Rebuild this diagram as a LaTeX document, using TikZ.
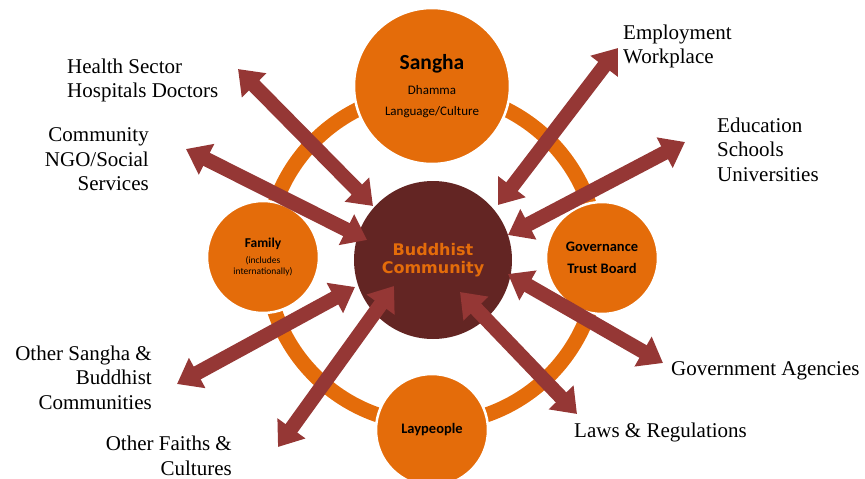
\documentclass[tikz,border=0pt]{standalone}
\usepackage{fontspec}
\setmainfont{Liberation Serif}
\newfontfamily\calib{Carlito}
\newfontfamily\verd{DejaVu Sans}
\usetikzlibrary{arrows.meta}
\definecolor{ringorange}{HTML}{E46C0A}
\definecolor{coredark}{HTML}{632523}
\definecolor{arrowred}{HTML}{953735}

\begin{document}
\begin{tikzpicture}[x=1pt,y=-1pt,
  sat/.style={circle, fill=ringorange, draw=white, line width=2.5pt, inner sep=0pt, align=center},
  link/.style={arrowred, line width=14.5pt,
    {Triangle[width=33pt,length=23pt]}-{Triangle[width=33pt,length=23pt]}},
  lbl/.style={inner sep=0pt, font=\fontsize{21}{24.5}\selectfont}
]
\useasboundingbox (0,0) rectangle (865,479);

% ring joining the four satellites
\draw[ringorange, line width=15pt] (432,258) circle[radius=166pt];

% satellites
\node[sat, minimum size=156pt, font=\calib\fontsize{13}{21}\selectfont] (sangha) at (432,86)
  {{\bfseries\fontsize{21.5}{21}\selectfont Sangha}\\[4pt]Dhamma\\Language/Culture};
\node[sat, minimum size=112pt, font=\calib\fontsize{9.5}{11}\selectfont] (family) at (263,257)
  {{\bfseries\fontsize{13.5}{16}\selectfont Family}\\[5pt](includes\\internationally)};
\node[sat, minimum size=112pt, font=\calib\bfseries\fontsize{14.5}{22}\selectfont] (gov) at (602,258)
  {Governance\\Trust Board};
\node[sat, minimum size=112pt, font=\calib\bfseries\fontsize{14.5}{17}\selectfont] (lay) at (432,430)
  {Laypeople};

% core
\node[circle, fill=coredark, minimum size=158pt, inner sep=0pt, align=center, text=ringorange,
  font=\verd\bfseries\fontsize{16}{18.5}\selectfont] (core) at (433,260) {Buddhist\\Community};

% outside labels
\node[lbl, anchor=north west, align=left] (health) at (67,58.5) {Health Sector\\Hospitals Doctors};
\node[lbl, anchor=north east, align=right] (comm) at (149,127.5) {Community\\NGO/Social\\Services};
\node[lbl, anchor=north west, align=left] (employ) at (623,24.5) {Employment\\Workplace};
\node[lbl, anchor=north west, align=left] (edu) at (717,117.5) {Education\\Schools\\Universities};
\node[lbl, anchor=north east, align=right] (othsangha) at (152,345.5) {Other Sangha \&\\Buddhist\\Communities};
\node[lbl, anchor=north east, align=right] (faiths) at (232,436) {Other Faiths \&\\Cultures};
\node[lbl, anchor=north west, align=left] (govag) at (671,361.5) {Government Agencies};
\node[lbl, anchor=north west, align=left] (laws) at (574,422.5) {Laws \& Regulations};

% arrow ends
\coordinate (hA) at (238,69);  \coordinate (hB) at (373,206);
\coordinate (cA) at (186,149); \coordinate (cB) at (367,240);
\coordinate (eA) at (618,48);  \coordinate (eB) at (498,205);
\coordinate (dA) at (685,142); \coordinate (dB) at (508,235);
\coordinate (sA) at (177,384); \coordinate (sB) at (355,287);
\coordinate (fA) at (278,447); \coordinate (fB) at (394,286);
\coordinate (gA) at (663,363); \coordinate (gB) at (508,274);
\coordinate (lA) at (577,414); \coordinate (lB) at (460,292);

% two-way links
\foreach \p in {h,c,e,d,s,f,g,l}
  \draw[link] (\p A) -- (\p B);
\end{tikzpicture}
\end{document}
